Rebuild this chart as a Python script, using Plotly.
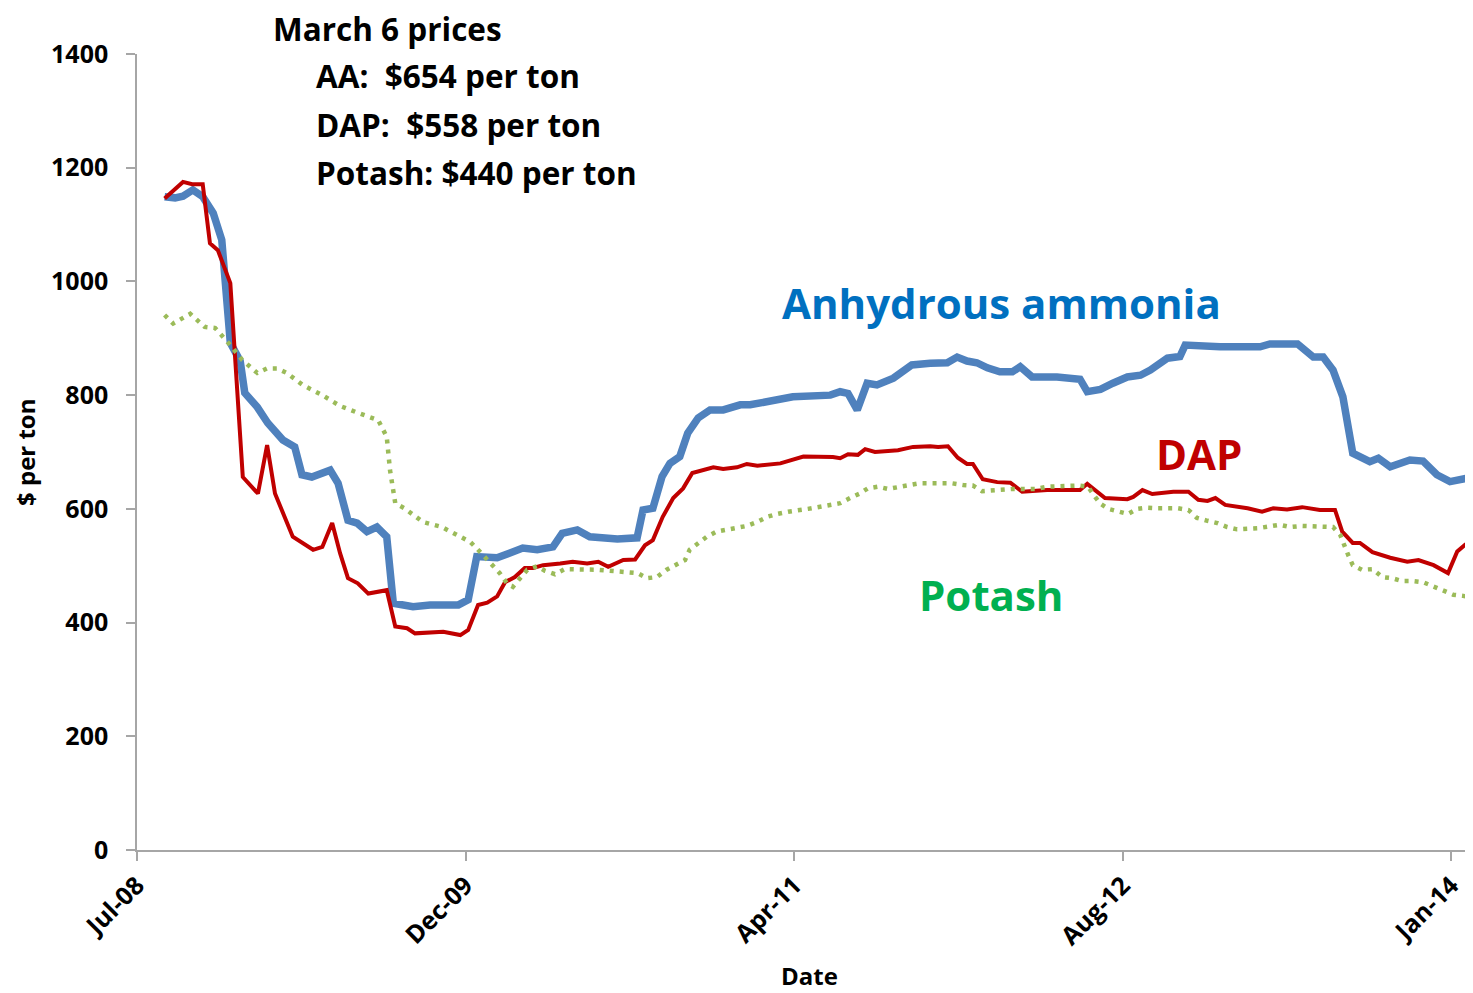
import plotly.graph_objects as go

# ---------------- data ----------------
aa_dates = ["2008-08-31", "2008-09-16", "2008-09-28", "2008-10-13", "2008-10-28", "2008-11-13", "2008-11-26",
            "2008-12-09", "2008-12-24", "2008-12-31", "2009-01-19", "2009-02-04", "2009-02-27", "2009-03-17",
            "2009-03-28", "2009-04-12", "2009-05-10", "2009-05-22", "2009-06-06", "2009-06-20", "2009-07-05",
            "2009-07-20", "2009-08-04", "2009-08-14", "2009-09-13", "2009-10-09", "2009-11-21", "2009-12-06",
            "2009-12-19", "2010-01-19", "2010-02-27", "2010-03-21", "2010-04-14", "2010-04-28", "2010-05-21",
            "2010-06-09", "2010-07-21", "2010-08-20", "2010-08-29", "2010-09-13", "2010-09-27", "2010-10-09",
            "2010-10-24", "2010-11-05", "2010-11-21", "2010-12-09", "2010-12-29", "2011-01-24", "2011-02-08",
            "2011-03-15", "2011-04-14", "2011-06-10", "2011-06-25", "2011-07-07", "2011-07-21", "2011-08-05",
            "2011-08-20", "2011-09-14", "2011-09-27", "2011-10-12", "2011-11-09", "2011-12-05", "2011-12-20",
            "2012-01-04", "2012-01-19", "2012-02-04", "2012-02-23", "2012-03-13", "2012-03-25", "2012-04-12",
            "2012-05-20", "2012-06-04", "2012-06-24", "2012-07-05", "2012-07-25", "2012-08-13", "2012-09-04",
            "2012-09-24", "2012-10-09", "2012-11-04", "2012-11-23", "2012-12-01", "2013-01-23", "2013-03-25",
            "2013-04-09", "2013-05-21", "2013-06-14", "2013-06-29", "2013-07-14", "2013-07-29", "2013-08-13",
            "2013-09-08", "2013-09-21", "2013-10-09", "2013-11-08", "2013-11-28", "2013-12-19", "2014-01-08",
            "2014-02-12"]
aa_prices = [1149, 1147, 1150, 1161, 1149, 1120, 1073,
             892, 860, 804, 779, 751, 721, 709,
             660, 656, 668, 645, 580, 575, 560,
             568, 551, 434, 428, 431, 431, 440,
             516, 514, 531, 528, 533, 557, 563,
             551, 547, 549, 598, 601, 657, 680,
             692, 733, 760, 774, 774, 783, 783,
             791, 797, 800, 806, 803, 774, 821,
             818, 830, 839, 853, 856, 857, 867,
             860, 857, 848, 841, 841, 850, 832,
             832, 830, 828, 806, 810, 821, 832,
             835, 844, 865, 868, 888, 885, 885,
             890, 890, 867, 867, 844, 797, 698,
             683, 689, 674, 686, 684, 660, 648,
             656]

dap_dates = ["2008-08-31", "2008-09-28", "2008-10-12", "2008-10-28", "2008-11-08", "2008-11-20", "2008-12-09",
             "2008-12-28", "2009-01-20", "2009-02-03", "2009-02-15", "2009-03-14", "2009-04-14", "2009-04-28",
             "2009-05-13", "2009-05-25", "2009-06-06", "2009-06-21", "2009-07-07", "2009-08-04", "2009-08-17",
             "2009-09-04", "2009-09-16", "2009-10-29", "2009-11-24", "2009-12-06", "2009-12-21", "2010-01-04",
             "2010-01-19", "2010-01-31", "2010-02-15", "2010-03-02", "2010-03-15", "2010-03-30", "2010-04-25",
             "2010-05-14", "2010-06-05", "2010-06-22", "2010-07-07", "2010-07-30", "2010-08-17", "2010-09-01",
             "2010-09-13", "2010-09-28", "2010-10-14", "2010-10-29", "2010-11-12", "2010-11-28", "2010-12-14",
             "2010-12-29", "2011-01-19", "2011-02-03", "2011-02-19", "2011-03-26", "2011-04-30", "2011-06-14",
             "2011-06-25", "2011-07-07", "2011-07-22", "2011-08-02", "2011-08-17", "2011-09-21", "2011-10-14",
             "2011-11-09", "2011-11-21", "2011-12-06", "2011-12-21", "2012-01-04", "2012-01-13", "2012-01-28",
             "2012-02-19", "2012-03-10", "2012-03-28", "2012-05-05", "2012-06-24", "2012-07-05", "2012-08-01",
             "2012-09-04", "2012-09-13", "2012-09-27", "2012-10-12", "2012-11-13", "2012-12-06", "2012-12-21",
             "2013-01-04", "2013-01-16", "2013-01-31", "2013-03-06", "2013-03-28", "2013-04-14", "2013-05-05",
             "2013-05-28", "2013-06-24", "2013-07-17", "2013-07-28", "2013-08-13", "2013-08-24", "2013-09-12",
             "2013-10-09", "2013-11-04", "2013-11-21", "2013-12-14", "2014-01-05", "2014-01-19", "2014-01-31",
             "2014-02-12"]
dap_prices = [1146, 1175, 1171, 1171, 1067, 1055, 997,
              656, 627, 712, 627, 551, 528, 533,
              575, 522, 478, 469, 451, 457, 393,
              390, 381, 384, 378, 387, 431, 435,
              446, 471, 480, 496, 496, 501, 504,
              507, 504, 507, 498, 510, 511, 536,
              545, 586, 619, 636, 663, 668, 673,
              670, 673, 679, 676, 680, 692, 691,
              689, 696, 695, 705, 700, 703, 709,
              710, 709, 710, 690, 679, 679, 652,
              647, 646, 630, 633, 633, 644, 619,
              617, 621, 633, 626, 630, 630, 616,
              614, 619, 607, 601, 595, 601, 599,
              603, 598, 598, 560, 540, 540, 524,
              514, 507, 510, 501, 487, 525, 537,
              542]

potash_dates = ["2008-08-31", "2008-09-13", "2008-10-09", "2008-10-31", "2008-11-16", "2008-11-28", "2008-12-09",
                "2008-12-27", "2009-01-19", "2009-02-03", "2009-02-18", "2009-03-05", "2009-03-29", "2009-04-28",
                "2009-05-25", "2009-06-21", "2009-07-22", "2009-08-04", "2009-08-09", "2009-08-17", "2009-08-31",
                "2009-09-28", "2009-10-27", "2009-11-24", "2009-12-09", "2009-12-21", "2009-12-31", "2010-01-13",
                "2010-01-23", "2010-02-03", "2010-02-12", "2010-02-23", "2010-03-06", "2010-03-21", "2010-04-02",
                "2010-04-17", "2010-05-02", "2010-06-20", "2010-07-22", "2010-08-21", "2010-09-04", "2010-09-19",
                "2010-10-04", "2010-10-16", "2010-11-01", "2010-11-08", "2010-11-21", "2010-12-04", "2010-12-19",
                "2011-01-04", "2011-01-19", "2011-02-03", "2011-02-19", "2011-03-06", "2011-03-21", "2011-04-07",
                "2011-05-07", "2011-06-10", "2011-06-25", "2011-07-10", "2011-07-25", "2011-08-06", "2011-08-22",
                "2011-09-06", "2011-09-21", "2011-10-09", "2011-10-24", "2011-12-12", "2011-12-29", "2012-01-13",
                "2012-01-27", "2012-02-13", "2012-03-14", "2012-04-17", "2012-05-05", "2012-06-21", "2012-07-06",
                "2012-07-17", "2012-07-25", "2012-08-06", "2012-08-21", "2012-09-05", "2012-09-19", "2012-10-04",
                "2012-10-19", "2012-11-20", "2012-12-06", "2012-12-19", "2013-01-04", "2013-01-19", "2013-02-03",
                "2013-02-18", "2013-03-22", "2013-04-09", "2013-04-24", "2013-05-10", "2013-05-28", "2013-07-14",
                "2013-07-25", "2013-08-06", "2013-08-13", "2013-08-27", "2013-09-12", "2013-09-27", "2013-10-12",
                "2013-10-27", "2013-11-13", "2013-11-28", "2013-12-14", "2013-12-29", "2014-01-13", "2014-01-28",
                "2014-02-12"]
potash_prices = [941, 926, 943, 920, 918, 903, 888,
                 862, 839, 847, 847, 839, 818, 800,
                 781, 769, 756, 727, 668, 610, 601,
                 577, 568, 551, 542, 528, 516, 501,
                 487, 469, 463, 478, 493, 499, 491,
                 485, 494, 493, 489, 487, 478, 480,
                 493, 501, 510, 528, 540, 551, 560,
                 563, 566, 570, 577, 586, 591, 595,
                 600, 607, 610, 619, 627, 636, 639,
                 635, 639, 642, 645, 645, 642, 641,
                 631, 633, 635, 635, 639, 641, 639,
                 621, 609, 600, 596, 591, 600, 602,
                 601, 601, 598, 584, 579, 575, 568,
                 564, 566, 570, 572, 568, 570, 568,
                 554, 519, 501, 493, 494, 480, 478,
                 473, 473, 471, 464, 456, 449, 447,
                 443]

tick_dates = ["2008-07-20", "2009-12-02", "2011-04-16", "2012-08-28", "2014-01-10"]
tick_labels = ["Jul-08", "Dec-09", "Apr-11", "Aug-12", "Jan-14"]
x_range = ["2008-07-20", "2014-02-12"]

# ---------------- layout geometry ----------------
# The page body keeps the browser's default 8px margin, so the figure is
# made 8px smaller and every position is given in window pixels minus 8.
OFF = 8
WIN_W, WIN_H = 1473, 993
W, H = WIN_W - OFF, WIN_H - OFF
PL, PR, PT, PB = 137, 1473, 54, 850          # plot area in window pixels
FONT = "Open Sans"


def px(x):
    return (x - PL) / (PR - PL)


def py(y):
    return (PB - y) / (PB - PT)


fig = go.Figure()
fig.add_trace(go.Scatter(x=aa_dates, y=aa_prices, mode="lines", name="Anhydrous ammonia",
                         line=dict(color="#4F81BD", width=7.5), hoverinfo="x+y"))
fig.add_trace(go.Scatter(x=dap_dates, y=dap_prices, mode="lines", name="DAP",
                         line=dict(color="#C00000", width=4), hoverinfo="x+y"))
fig.add_trace(go.Scatter(x=potash_dates, y=potash_prices, mode="lines", name="Potash",
                         line=dict(color="#9BBB59", width=4.5, dash="4px,6px"), hoverinfo="x+y"))

axis_grey = "#A6A6A6"
fig.update_layout(
    width=W, height=H,
    margin=dict(l=PL - OFF, r=WIN_W - PR, t=PT - OFF, b=WIN_H - PB, pad=0, autoexpand=False),
    paper_bgcolor="white", plot_bgcolor="white",
    showlegend=False,
    font=dict(family=FONT, color="black"),
    xaxis=dict(type="date", range=x_range, tickvals=tick_dates, ticktext=tick_labels,
               tickangle=-45, showgrid=False, zeroline=False, showline=True,
               linecolor=axis_grey, linewidth=1.5, ticks="outside", ticklen=9,
               tickcolor=axis_grey, tickwidth=1.5, ticklabelstandoff=0,
               tickfont=dict(family=FONT, size=25, color="black", weight="bold")),
    yaxis=dict(range=[0, 1400], dtick=200, tick0=0, showgrid=False, zeroline=False,
               showline=True, linecolor=axis_grey, linewidth=1.5, ticks="outside",
               ticklen=9, tickcolor=axis_grey, tickwidth=1.5, ticklabelstandoff=13,
               tickfont=dict(family=FONT, size=25, color="black", weight="bold")),
)


def note(text, x, y, size, color="black", xanchor="left", angle=0):
    fig.add_annotation(text=f"<b>{text}</b>", xref="paper", yref="paper",
                       x=px(x), y=py(y), xanchor=xanchor, yanchor="middle",
                       showarrow=False, textangle=angle,
                       font=dict(family=FONT, size=size, color=color))


note("March 6 prices", 271, 29, 31.5)
note("AA:\u00a0 $654 per ton", 314, 76, 31.5)
note("DAP:\u00a0 $558 per ton", 314, 124, 31.5)
note("Potash: $440 per ton", 314, 172, 31.5)
note("Anhydrous ammonia", 780, 302, 42, color="#0070C0")
note("DAP", 1154, 454, 42, color="#C00000")
note("Potash", 917, 594, 42, color="#00B050")
note("$ per ton", 25, 452, 24, xanchor="center", angle=-90)
note("Date", 809, 975, 24, xanchor="center")

fig.write_html("out.html")
